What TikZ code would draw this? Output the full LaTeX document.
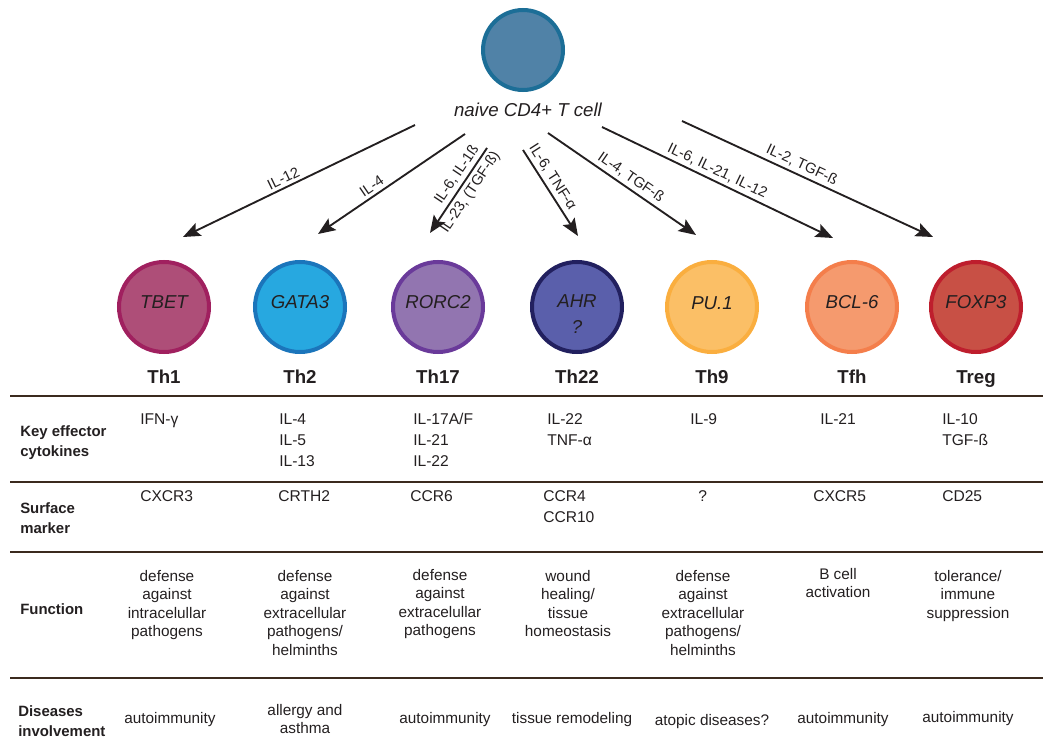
\documentclass[tikz,border=0pt]{standalone}
\usepackage{fontspec}
\setmainfont{Liberation Sans}
\usetikzlibrary{arrows.meta}
\definecolor{txt}{HTML}{231F20}
\definecolor{rule}{HTML}{3B2A1E}
\definecolor{naiveF}{HTML}{5082A7}\definecolor{naiveD}{HTML}{1C6E97}
\definecolor{thAF}{HTML}{AE4E78}\definecolor{thAD}{HTML}{A0205F}
\definecolor{thBF}{HTML}{27A8E0}\definecolor{thBD}{HTML}{1B75BB}
\definecolor{thCF}{HTML}{9275B0}\definecolor{thCD}{HTML}{6A3A9A}
\definecolor{thDF}{HTML}{5A5FAB}\definecolor{thDD}{HTML}{22205F}
\definecolor{thEF}{HTML}{FBBF66}\definecolor{thED}{HTML}{FAAE3F}
\definecolor{thGF}{HTML}{F59A6E}\definecolor{thGD}{HTML}{F47E4B}
\definecolor{thHF}{HTML}{C85045}\definecolor{thHD}{HTML}{BE1E2D}
\begin{document}
\begin{tikzpicture}[x=0.75pt,y=-0.75pt,
  cell/.style={circle, line width=3pt, minimum size=67.5pt, inner sep=0pt},
  gene/.style={font=\fontsize{14}{16}\selectfont\itshape, text=txt, anchor=base, inner sep=0pt},
  subset/.style={font=\fontsize{14}{16}\selectfont\bfseries, text=txt, anchor=base, inner sep=0pt},
  rowlab/.style={font=\fontsize{11.2}{15}\selectfont\bfseries, align=left, anchor=north west, inner sep=0pt, text=txt},
  cyto/.style={font=\fontsize{11.7}{15.75}\selectfont, align=left, anchor=north west, inner sep=0pt, text=txt},
  func/.style={font=\fontsize{11.5}{13.9}\selectfont, align=center, anchor=north, inner sep=0pt, text=txt},
  dis/.style={font=\fontsize{11.5}{13.9}\selectfont, anchor=base, inner sep=0pt, text=txt},
  sep/.style={draw=rule, line width=1.5pt},
  arr/.style={-{Stealth[length=13pt,width=10.5pt,inset=2.5pt]}, line width=1.4pt, draw=txt},
  lab/.style={font=\fontsize{11}{13}\selectfont, sloped, text=txt, inner sep=2.5pt}
]
\useasboundingbox (0,0) rectangle (1043,756);

% naive cell
\node[cell, minimum size=60pt, draw=naiveD, fill=naiveF] (naive) at (523,50) {};
\node[gene] (naivelab) at (528,117) {naive CD4+ T cell};

% subset circles
\node[cell, draw=thAD, fill=thAF] (c1) at (164,307) {};
\node[cell, draw=thBD, fill=thBF] (c2) at (300,307) {};
\node[cell, draw=thCD, fill=thCF] (c3) at (438,307) {};
\node[cell, draw=thDD, fill=thDF] (c4) at (577,307) {};
\node[cell, draw=thED, fill=thEF] (c5) at (712,307) {};
\node[cell, draw=thGD, fill=thGF] (c6) at (852,307) {};
\node[cell, draw=thHD, fill=thHF] (c7) at (976,307) {};

\node[gene] (g1) at (164,308) {TBET};
\node[gene] (g2) at (300,308) {GATA3};
\node[gene] (g3) at (438,308) {RORC2};
\node[gene] (g4) at (577,307) {AHR};
\node[gene] (g4b) at (577,333) {?};
\node[gene] (g5) at (712,309) {PU.1};
\node[gene] (g6) at (852,308) {BCL-6};
\node[gene] (g7) at (976,308) {FOXP3};

\node[subset] (t1) at (164,383) {Th1};
\node[subset] (t2) at (300,383) {Th2};
\node[subset] (t3) at (438,383) {Th17};
\node[subset] (t4) at (577,383) {Th22};
\node[subset] (t5) at (712,383) {Th9};
\node[subset] (t6) at (852,383) {Tfh};
\node[subset] (t7) at (976,383) {Treg};

% arrows
\coordinate (s1) at (415,125); \coordinate (e1) at (183,237);
\coordinate (s2) at (465,134); \coordinate (e2) at (318,234);
\coordinate (s3) at (487,148); \coordinate (e3) at (430,233);
\coordinate (s4) at (523,150); \coordinate (e4) at (578,236);
\coordinate (s5) at (548,133); \coordinate (e5) at (696,235);
\coordinate (s6) at (602,127); \coordinate (e6) at (833,238);
\coordinate (s7) at (682,121); \coordinate (e7) at (933,237);

\draw[arr] (s1) -- node[lab, pos=0.55, above] (l1) {IL-12} (e1);
\draw[arr] (s2) -- node[lab, pos=0.6, above] (l2) {IL-4} (e2);
\draw[arr] (s3) -- node[lab, pos=0.38, above] (l3a) {IL-6, IL-1ß}
                   node[lab, pos=0.45, below] (l3b) {IL-23, (TGF-ß)} (e3);
\draw[arr] (s4) -- node[lab, pos=0.38, above] (l4) {IL-6, TNF-α} (e4);
\draw[arr] (s5) -- node[lab, pos=0.52, above] (l5) {IL-4, TGF-ß} (e5);
\draw[arr] (s6) -- node[lab, pos=0.48, above] (l6) {IL-6, IL-21, IL-12} (e6);
\draw[arr] (s7) -- node[lab, pos=0.46, above] (l7) {IL-2, TGF-ß} (e7);

% table rules
\draw[sep] (10,396) -- (1043,396);
\draw[sep] (10,482) -- (1043,482);
\draw[sep] (10,552) -- (1043,552);
\draw[sep] (10,678) -- (1043,678);

% row labels
\node[rowlab] (r1) at (20,425) {Key effector\\cytokines};
\node[rowlab] (r2) at (20,502) {Surface\\marker};
\node[rowlab] (r3) at (20,603) {Function};
\node[rowlab] (r4) at (18,705) {Diseases\\involvement};

% cytokines
\node[cyto] (k1) at (140,413) {IFN-γ};
\node[cyto] (k2) at (279,413) {IL-4\\IL-5\\IL-13};
\node[cyto] (k3) at (413,413) {IL-17A/F\\IL-21\\IL-22};
\node[cyto] (k4) at (547,413) {IL-22\\TNF-α};
\node[cyto] (k5) at (690,413) {IL-9};
\node[cyto] (k6) at (820,413) {IL-21};
\node[cyto] (k7) at (942,413) {IL-10\\TGF-ß};

% surface markers
\node[cyto] (m1) at (140,490) {CXCR3};
\node[cyto] (m2) at (278,490) {CRTH2};
\node[cyto] (m3) at (410,490) {CCR6};
\node[cyto] (m4) at (543,490) {CCR4\\CCR10};
\node[cyto] (m5) at (698,490) {?};
\node[cyto] (m6) at (813,490) {CXCR5};
\node[cyto] (m7) at (942,490) {CD25};

% function
\node[func] (f1) at (167,570) {defense\\against\\intracelullar\\pathogens};
\node[func] (f2) at (305,570) {defense\\against\\extracellular\\pathogens/\\helminths};
\node[func] (f3) at (440,569) {defense\\against\\extracelullar\\pathogens};
\node[func] (f4) at (568,570) {wound\\healing/\\tissue\\homeostasis};
\node[func] (f5) at (703,570) {defense\\against\\extracellular\\pathogens/\\helminths};
\node[func] (f6) at (838,568) {B cell\\activation};
\node[func] (f7) at (968,570) {tolerance/\\immune\\suppression};

% diseases
\node[dis] (d1) at (170,723) {autoimmunity};
\node[func] (d2) at (305,704) {allergy and\\asthma};
\node[dis] (d3) at (445,723) {autoimmunity};
\node[dis] (d4) at (572,723) {tissue remodeling};
\node[dis] (d5) at (712,725) {atopic diseases?};
\node[dis] (d6) at (843,723) {autoimmunity};
\node[dis] (d7) at (968,722) {autoimmunity};
\end{tikzpicture}
\end{document}
